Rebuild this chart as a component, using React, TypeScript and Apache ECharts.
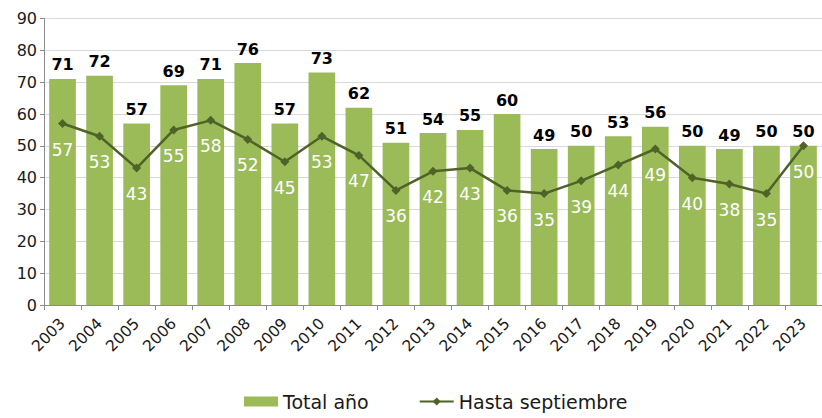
import React, { useEffect, useRef } from "react";
import * as echarts from "echarts";

const years = ["2003","2004","2005","2006","2007","2008","2009","2010","2011","2012","2013","2014","2015","2016","2017","2018","2019","2020","2021","2022","2023"];
const totalAnio = [71,72,57,69,71,76,57,73,62,51,54,55,60,49,50,53,56,50,49,50,50];
const hastaSeptiembre = [57,53,43,55,58,52,45,53,47,36,42,43,36,35,39,44,49,40,38,35,50];
const yTicks = { min: 0, max: 90, interval: 10 };

const FONT = "DejaVu Sans";

export default function App() {
  const ref = useRef<HTMLDivElement>(null);
  useEffect(() => {
    if (!ref.current) return;
    const chart = echarts.init(ref.current, null, { renderer: "svg" });
    chart.setOption({
      animation: false,
      textStyle: { fontFamily: FONT },
      grid: { left: 44, top: 18.5, width: 786, height: 286.5, containLabel: false },
      legend: {
        left: 244,
        top: 392,
        padding: 0,
        itemGap: 50,
        itemWidth: 34,
        itemHeight: 10,
        textStyle: { fontFamily: FONT, fontSize: 19, color: "#1a1a1a" },
        data: [
          { name: "Total año", icon: "rect" },
          { name: "Hasta septiembre" },
        ],
      },
      xAxis: {
        type: "category",
        data: years,
        axisLine: { show: true, lineStyle: { color: "#8c8c8c", width: 1 } },
        axisTick: { show: true, alignWithLabel: false, length: 5, lineStyle: { color: "#8c8c8c" } },
        axisLabel: { rotate: 45, fontSize: 15.5, color: "#1a1a1a", fontFamily: FONT, margin: 16, interval: 0 },
      },
      yAxis: {
        type: "value",
        min: yTicks.min,
        max: yTicks.max,
        interval: yTicks.interval,
        axisLine: { show: true, lineStyle: { color: "#8c8c8c", width: 1 } },
        axisTick: { show: true, length: 4, lineStyle: { color: "#8c8c8c" } },
        axisLabel: { fontSize: 16, color: "#1a1a1a", fontFamily: FONT, margin: 7 },
        splitLine: { show: true, lineStyle: { color: "#d9d9d9", width: 1 } },
      },
      series: [
        {
          name: "Total año",
          type: "bar",
          data: totalAnio,
          barCategoryGap: "28%",
          itemStyle: { color: "#9bbb59" },
          label: {
            show: true,
            position: "top",
            distance: 6,
            fontSize: 16,
            fontWeight: "bold",
            color: "#000",
            fontFamily: FONT,
          },
        },
        {
          name: "Hasta septiembre",
          type: "line",
          data: hastaSeptiembre,
          symbol: "diamond",
          symbolSize: 9,
          itemStyle: { color: "#4f6228" },
          lineStyle: { color: "#4f6228", width: 2.5 },
          label: {
            show: true,
            position: "bottom",
            distance: 13,
            fontSize: 17,
            color: "#fff",
            fontFamily: FONT,
          },
        },
      ],
    });
    return () => chart.dispose();
  }, []);
  return (
    <div
      ref={ref}
      style={{ position: "absolute", left: 0, top: 0, width: 822, height: 418, overflow: "hidden" }}
    />
  );
}
